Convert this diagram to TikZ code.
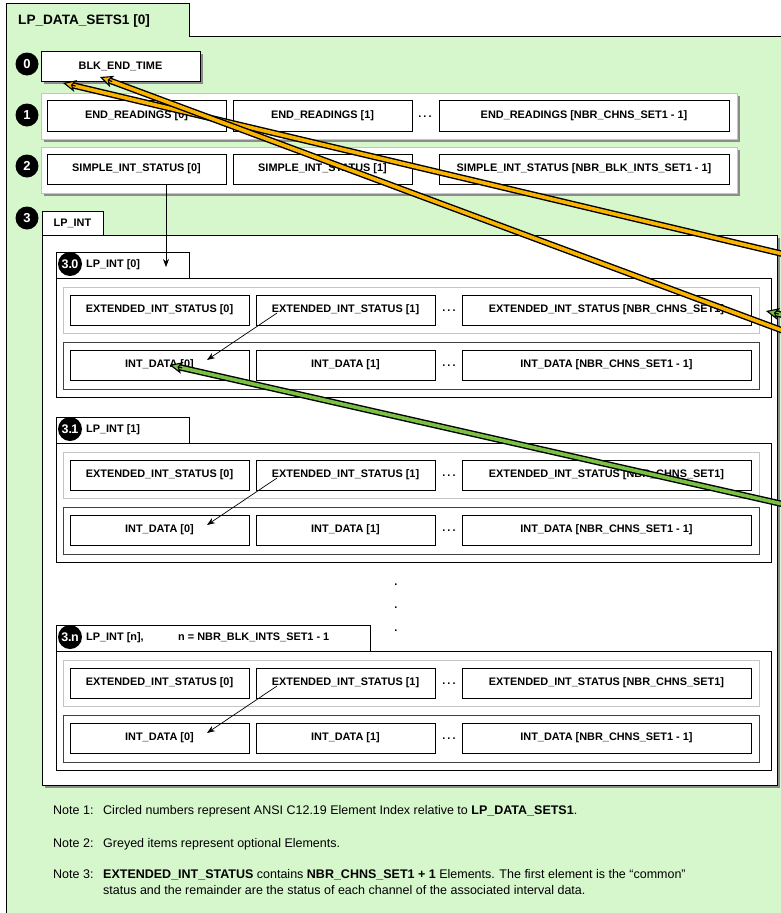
\documentclass[tikz,border=0pt]{standalone}
\usepackage{fontspec}
\setmainfont{Liberation Sans}
\usetikzlibrary{arrows.meta,calc,shadows}

\definecolor{pagegreen}{RGB}{214,246,204}
\definecolor{bandorange}{RGB}{250,180,0}
\definecolor{bandgreen}{RGB}{122,192,66}
\definecolor{shadowgray}{RGB}{140,140,140}
\definecolor{framegray}{RGB}{196,196,196}

\newcommand\cellfont{\fontsize{10.9}{12}\selectfont\bfseries}
\newcommand\headfont{\fontsize{13.6}{15}\selectfont\bfseries}
\newcommand\notesfont{\fontsize{12.5}{14}\selectfont}
\newcommand\subidxfont{\fontsize{12.5}{12.5}\selectfont\bfseries}

% thick outlined band with an outlined head: colour, tail, tip
\newcommand\bandarrow[3]{%
  \draw[line width=6.4pt, black, shorten >=8pt] (#2) -- (#3);
  \draw[line width=3.6pt, #1, shorten >=8pt] (#2) -- (#3);
  \draw[line width=1.1pt, black, -{Stealth[length=13pt, width=12pt, inset=3.5pt, fill=#1]}]
    ($(#3)!13pt!(#2)$) -- (#3);
}

% one LP_INT[k] block: top of tab, name suffix, tab width, tab caption
\newcommand\lpintblock[4]{%
  \node[blockbox, minimum width=715pt, minimum height=119pt] (blk#2) at (56,{#1+26}) {};
  \node[tabbox, minimum width=#3pt, minimum height=26pt] (tab#2) at (56,#1) {};
  \node[idx, minimum size=24pt, font=\subidxfont] (idx#2) at (70,{#1+12}) {3.\kern-0.6pt#2};
  \node[anchor=west, font=\cellfont, inner sep=0pt] (cap#2) at (86,{#1+13}) {#4};
  \node[extframe] (ext#2) at (63,{#1+35}) {};
  \node[cell, minimum width=179pt] (es0#2) at (70,{#1+43}) {EXTENDED\_INT\_STATUS [0]};
  \node[cell, minimum width=179pt] (es1#2) at (256,{#1+43}) {EXTENDED\_INT\_STATUS [1]};
  \node[dots] (esd#2) at (449,{#1+59}) {.\hspace{2.2pt}.\hspace{2.2pt}.};
  \node[cell, minimum width=289pt] (esn#2) at (462,{#1+43}) {EXTENDED\_INT\_STATUS [NBR\_CHNS\_SET1]};
  \node[intframe] (int#2) at (63,{#1+90}) {};
  \node[cell, minimum width=179pt] (id0#2) at (70,{#1+98}) {INT\_DATA [0]};
  \node[cell, minimum width=179pt] (id1#2) at (256,{#1+98}) {INT\_DATA [1]};
  \node[dots] (idd#2) at (449,{#1+114}) {.\hspace{2.2pt}.\hspace{2.2pt}.};
  \node[cell, minimum width=289pt] (idn#2) at (462,{#1+98}) {INT\_DATA [NBR\_CHNS\_SET1 - 1]};
  \draw[thinarrow] ([shift={(21,-12)}]es1#2.south west) -- ([shift={(47.5,-5)}]id0#2.center);
}

\begin{document}
\begin{tikzpicture}[x=1pt, y=-1pt,
  cell/.style={draw=black, line width=0.9pt, fill=white, anchor=north west,
    inner sep=0pt, outer sep=0pt, minimum height=30pt, font=\cellfont},
  shadowed/.style={drop shadow={shadow xshift=3pt, shadow yshift=-3pt,
    fill=shadowgray, opacity=1}},
  rowframe/.style={draw=framegray, line width=1pt, fill=white, anchor=north west,
    inner sep=0pt, outer sep=0pt, minimum width=696pt, minimum height=46pt},
  extframe/.style={draw=framegray, line width=1pt, fill=white, anchor=north west,
    inner sep=0pt, outer sep=0pt, minimum width=696pt, minimum height=46pt},
  intframe/.style={draw=black!75, line width=1pt, fill=white, anchor=north west,
    inner sep=0pt, outer sep=0pt, minimum width=696pt, minimum height=47pt},
  blockbox/.style={draw=black, line width=0.9pt, fill=white, anchor=north west,
    inner sep=0pt, outer sep=0pt},
  tabbox/.style={draw=black, line width=0.9pt, fill=white, anchor=north west,
    inner sep=0pt, outer sep=0pt},
  idx/.style={circle, fill=black, text=white, inner sep=0pt, minimum size=23pt,
    font=\fontsize{13}{13}\selectfont\bfseries},
  dots/.style={font=\cellfont, inner sep=0pt},
  thinarrow/.style={line width=0.7pt, -{Stealth[length=8pt, width=6pt]}},
  note/.style={font=\notesfont, inner sep=0pt, anchor=base west},
]
\useasboundingbox (0,0) rectangle (780,913);

% green page with its title tab
\fill[pagegreen] (6,36) rectangle (800,930);
\fill[pagegreen] (6,3) rectangle (189,36);
\draw[line width=0.9pt] (6,930) -- (6,3) -- (189,3) -- (189,36) -- (800,36);
\node[anchor=base west, font=\headfont, inner sep=0pt] (title) at (18,24) {LP\_DATA\_SETS1 [0]};

% element 0
\node[cell, shadowed, minimum width=159pt] (endtime) at (41,51) {BLK\_END\_TIME};
\node[idx] (i0) at (27,64) {0};

% element 1
\node[rowframe, shadowed] (row1) at (41,93) {};
\node[cell, minimum width=179pt, minimum height=31pt] (er0) at (47,100) {END\_READINGS [0]};
\node[cell, minimum width=179pt, minimum height=31pt] (er1) at (233,100) {END\_READINGS [1]};
\node[dots] (erd) at (425,117) {.\hspace{2.2pt}.\hspace{2.2pt}.};
\node[cell, minimum width=290pt, minimum height=31pt] (ern) at (439,100) {END\_READINGS [NBR\_CHNS\_SET1 - 1]};
\node[idx] (i1) at (27,115) {1};

% element 2
\node[rowframe, shadowed] (row2) at (41,147) {};
\node[cell, minimum width=179pt] (sis0) at (47,154) {SIMPLE\_INT\_STATUS [0]};
\node[cell, minimum width=179pt] (sis1) at (233,154) {SIMPLE\_INT\_STATUS [1]};
\node[cell, minimum width=290pt] (sisn) at (439,154) {SIMPLE\_INT\_STATUS [NBR\_BLK\_INTS\_SET1 - 1]};
\node[idx] (i2) at (27,166) {2};

% element 3
\node[blockbox, shadowed, minimum width=735pt, minimum height=550pt] (lpbox) at (42,235) {};
\node[tabbox, minimum width=61pt, minimum height=24pt, font=\cellfont] (lptab) at (42,211) {LP\_INT};
\node[idx] (i3) at (27,218) {3};

\lpintblock{252}{0}{133}{LP\_INT [0]}
\lpintblock{417}{1}{133}{LP\_INT [1]}
\lpintblock{625}{n}{314}{\makebox[92pt][l]{LP\_INT [n],}n = NBR\_BLK\_INTS\_SET1 - 1}

\node[inner sep=0pt, font=\cellfont] (vd1) at (396,585) {.};
\node[inner sep=0pt, font=\cellfont] (vd2) at (396,608) {.};
\node[inner sep=0pt, font=\cellfont] (vd3) at (396,631) {.};

\draw[thinarrow] ([shift={(29.5,0)}]sis0.south) -- ([shift={(43.5,-11)}]tab0.south);

% notes
\node[note] (n1l) at (53,814) {Note 1:};
\node[note] (n1t) at (103,814) {Circled numbers represent ANSI C12.19 Element Index relative to \textbf{LP\_DATA\_SETS1}.};
\node[note] (n2l) at (53,847) {Note 2:};
\node[note] (n2t) at (103,847) {Greyed items represent optional Elements.};
\node[note] (n3l) at (53,878) {Note 3:};
\node[note] (n3t) at (103,878) {\textbf{EXTENDED\_INT\_STATUS} contains \textbf{NBR\_CHNS\_SET1 + 1} Elements. The first element is the “common”};
\node[note] (n3u) at (103,894) {status and the remainder are the status of each channel of the associated interval data.};

% highlight bands
\coordinate (o1tail) at (800,258);
\coordinate (o1tip) at ([shift={(22,2)}]endtime.south west);
\coordinate (o2tail) at (800,337);
\coordinate (o2tip) at ([shift={(59,-4)}]endtime.south west);
\coordinate (g1tail) at (800,508);
\coordinate (g1tip) at ([shift={(10,0)}]id00.center);
\coordinate (g2tail) at (800,319);
\coordinate (g2tip) at ([shift={(7,1)}]ext0.east);
\bandarrow{bandorange}{o1tail}{o1tip}
\bandarrow{bandorange}{o2tail}{o2tip}
\bandarrow{bandgreen}{g1tail}{g1tip}
\bandarrow{bandgreen}{g2tail}{g2tip}
\end{tikzpicture}
\end{document}
